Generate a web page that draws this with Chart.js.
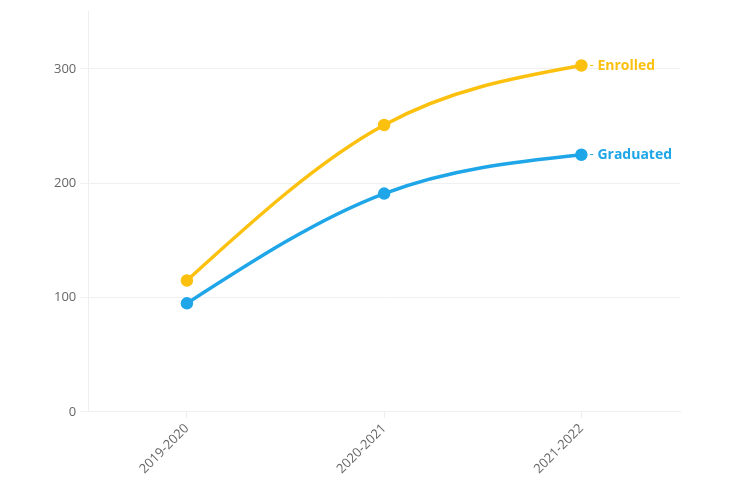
<!DOCTYPE html>
<html><head><meta charset="utf-8">
<script src="https://cdn.jsdelivr.net/npm/chart.js@4/dist/chart.umd.min.js"></script>
<style>html,body{margin:0;padding:0;background:#fff}#w{width:748px;height:486px}</style>
</head><body><div id="w"><canvas id="c"></canvas></div>
<script>
const categories = ["2019-2020", "2020-2021", "2021-2022"];
const enrolled = [115, 251, 303];
const graduated = [95, 191, 225];
const seriesNames = ["Enrolled", "Graduated"];
const yTicks = [0, 100, 200, 300];

// natural cubic spline control points (same as d3.curveNatural)
function naturalCP(x) {
  const n = x.length - 1;
  const a = new Array(n), b = new Array(n), r = new Array(n);
  let i, m;
  a[0] = 0; b[0] = 2; r[0] = x[0] + 2 * x[1];
  for (i = 1; i < n - 1; ++i) { a[i] = 1; b[i] = 4; r[i] = 4 * x[i] + 2 * x[i + 1]; }
  a[n - 1] = 2; b[n - 1] = 7; r[n - 1] = 8 * x[n - 1] + x[n];
  for (i = 1; i < n; ++i) { m = a[i] / b[i - 1]; b[i] -= m; r[i] -= m * r[i - 1]; }
  a[n - 1] = r[n - 1] / b[n - 1];
  for (i = n - 2; i >= 0; --i) a[i] = (r[i] - a[i + 1]) / b[i];
  b[n - 1] = (x[n] + a[n - 1]) / 2;
  for (i = 0; i < n - 1; ++i) b[i] = 2 * x[i + 1] - a[i + 1];
  return [a, b];
}

const naturalCurve = {
  id: 'naturalCurve',
  beforeDatasetsDraw(chart) {
    chart.data.datasets.forEach((ds, i) => {
      const meta = chart.getDatasetMeta(i);
      const pts = meta.data;
      if (pts.length < 3) return;
      const [ax, bx] = naturalCP(pts.map(p => p.x));
      const [ay, by] = naturalCP(pts.map(p => p.y));
      for (let k = 0; k < pts.length - 1; k++) {
        pts[k].cp2x = ax[k]; pts[k].cp2y = ay[k];
        pts[k + 1].cp1x = bx[k]; pts[k + 1].cp1y = by[k];
      }
      pts[0].cp1x = pts[0].x; pts[0].cp1y = pts[0].y;
      const l = pts[pts.length - 1];
      l.cp2x = l.x; l.cp2y = l.y;
      meta.dataset._pointsUpdated = true;
    });
  }
};

const endLabels = {
  id: 'endLabels',
  afterDatasetsDraw(chart) {
    const ctx = chart.ctx;
    chart.data.datasets.forEach((ds, i) => {
      const meta = chart.getDatasetMeta(i);
      const pt = meta.data[meta.data.length - 1];
      ctx.save();
      ctx.textBaseline = 'middle';
      ctx.textAlign = 'left';
      ctx.fillStyle = ds.borderColor;
      ctx.font = '13px "Open Sans", sans-serif';
      ctx.fillText('-', pt.x + 8, pt.y);
      ctx.font = 'bold 14px "Open Sans", sans-serif';
      ctx.fillText(ds.label, pt.x + 16, pt.y);
      ctx.restore();
    });
  }
};

new Chart(document.getElementById('c'), {
  type: 'line',
  data: {
    labels: categories,
    datasets: [
      { label: seriesNames[0], data: enrolled, borderColor: '#FCC10F', backgroundColor: '#FCC10F',
        borderWidth: 3.5, pointRadius: 4.5, pointHoverRadius: 4.5, tension: 0.4 },
      { label: seriesNames[1], data: graduated, borderColor: '#1FA6E8', backgroundColor: '#1FA6E8',
        borderWidth: 3.5, pointRadius: 4.5, pointHoverRadius: 4.5, tension: 0.4 }
    ]
  },
  options: {
    responsive: true, maintainAspectRatio: false, animation: false,
    layout: { padding: { left: 50, right: 68, top: 0, bottom: 6 } },
    plugins: { legend: { display: false }, tooltip: { enabled: false } },
    scales: {
      x: {
        offset: true,
        grid: { drawOnChartArea: false, drawTicks: true, tickLength: 6, color: '#eee' },
        border: { display: true, color: '#eee' },
        ticks: { color: '#666', font: { family: '"Open Sans", sans-serif', size: 13 }, maxRotation: 45, minRotation: 45, padding: 3 }
      },
      y: {
        min: 0, max: 350,
        afterBuildTicks(axis) { axis.ticks = yTicks.map(v => ({ value: v })); },
        grid: { color: '#f0f0f0', tickLength: 8 },
        border: { display: true, color: '#eee' },
        ticks: { color: '#666', font: { family: '"Open Sans", sans-serif', size: 13 }, padding: 4 }
      }
    }
  },
  plugins: [naturalCurve, endLabels]
});
</script></body></html>
